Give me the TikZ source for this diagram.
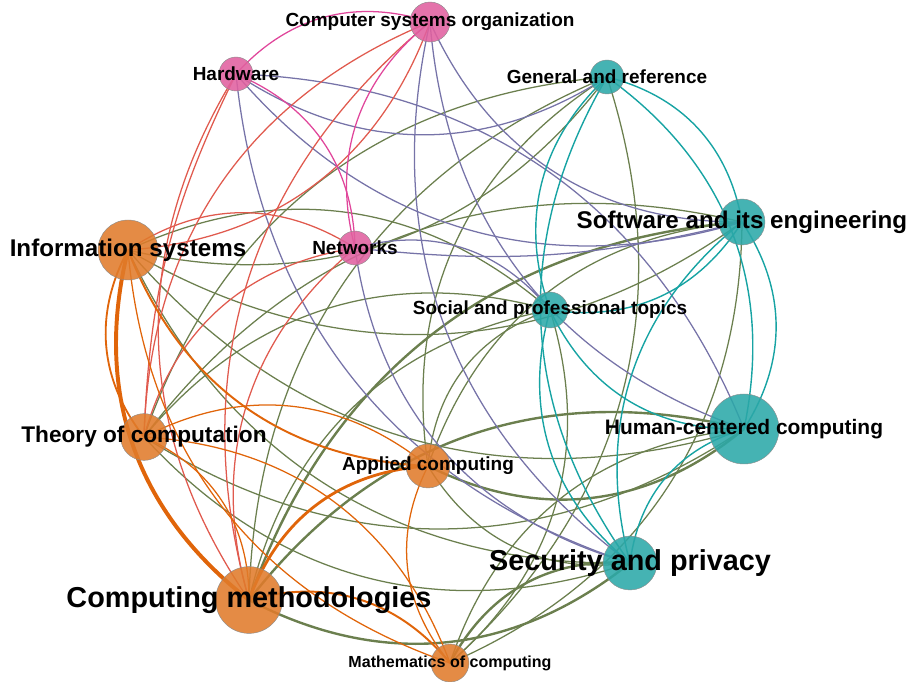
\documentclass[tikz,border=0pt]{standalone}
\usepackage{fontspec}
\setmainfont{Liberation Sans}
\usetikzlibrary{backgrounds}
\definecolor{pinkfill}{HTML}{E0609F}
\definecolor{tealfill}{HTML}{2BA8A8}
\definecolor{orangefill}{HTML}{E07B2B}
\definecolor{pinkline}{HTML}{E0469B}
\definecolor{redline}{HTML}{E05A4E}
\definecolor{purpleline}{HTML}{7673A8}
\definecolor{tealline}{HTML}{17A3A3}
\definecolor{oliveline}{HTML}{6B7F4E}
\definecolor{orangeline}{HTML}{E0650A}
\newcommand{\fsz}[1]{\fontsize{#1}{#1}\selectfont}

\begin{document}
\begin{tikzpicture}[bend angle=33,
    dot/.style={circle, inner sep=0pt, draw=black!45, line width=.3pt, fill opacity=.88},
    pinkdot/.style={dot, fill=pinkfill},
    tealdot/.style={dot, fill=tealfill},
    orangedot/.style={dot, fill=orangefill},
    lab/.style={font=\bfseries, inner sep=0pt},
    lnPink/.style={pinkline, line width=.9pt},
    lnRed/.style={redline, line width=.9pt},
    lnPurple/.style={purpleline, line width=.9pt},
    lnTeal/.style={tealline, line width=1pt},
    lnOlive/.style={oliveline, line width=.9pt},
    lnOrange/.style={orangeline, line width=.9pt},
    heavy/.style={line width=1.7pt}]
\useasboundingbox (0,0) rectangle (22.8,17.025);

% pink group
\node[pinkdot, minimum size=1cm, label={[lab]center:{\fsz{13.5}Computer systems organization}}] (cso) at (10.75,16.475) {};
\node[pinkdot, minimum size=.85cm, label={[lab]center:{\fsz{13.5}Hardware}}] (hw) at (5.9,15.175) {};
\node[pinkdot, minimum size=.85cm, label={[lab]center:{\fsz{13.5}Networks}}] (net) at (8.875,10.825) {};

% teal group
\node[tealdot, minimum size=.85cm, label={[lab]center:{\fsz{13.5}General and reference}}] (gr) at (15.175,15.1) {};
\node[tealdot, minimum size=1.15cm, label={[lab]center:{\fsz{17.2}Software and its engineering}}] (se) at (18.55,11.475) {};
\node[tealdot, minimum size=.9cm, label={[lab]center:{\fsz{13.5}Social and professional topics}}] (spt) at (13.75,9.275) {};
\node[tealdot, minimum size=1.75cm, label={[lab]center:{\fsz{14.9}Human-centered computing}}] (hcc) at (18.6,6.3) {};
\node[tealdot, minimum size=1.35cm, label={[lab]center:{\fsz{20.5}Security and privacy}}] (sp) at (15.75,2.95) {};

% orange group
\node[orangedot, minimum size=1.5cm, label={[lab]center:{\fsz{17.2}Information systems}}] (is) at (3.2,10.775) {};
\node[orangedot, minimum size=1.17cm, label={[lab]center:{\fsz{16.1}Theory of computation}}] (toc) at (3.6,6.1) {};
\node[orangedot, minimum size=1.1cm, label={[lab]center:{\fsz{13.5}Applied computing}}] (ac) at (10.7,5.375) {};
\node[orangedot, minimum size=1.67cm, label={[lab]center:{\fsz{20.5}Computing methodologies}}] (cm) at (6.225,2.025) {};
\node[orangedot, minimum size=.95cm, label={[lab]center:{\fsz{11.4}Mathematics of computing}}] (moc) at (11.25,0.45) {};

\begin{scope}[on background layer]
% orange to teal
\draw[lnOlive] (is.center) to[bend right] (gr.center);
\draw[lnOlive] (is.center) to[bend right] (se.center);
\draw[lnOlive] (is.center) to[bend left] (spt.center);
\draw[lnOlive] (is.center) to[bend right] (hcc.center);
\draw[lnOlive] (is.center) to[bend right] (sp.center);
\draw[lnOlive] (toc.center) to[bend left] (gr.center);
\draw[lnOlive] (toc.center) to[bend left] (se.center);
\draw[lnOlive] (toc.center) to[bend left] (spt.center);
\draw[lnOlive] (toc.center) to[bend right] (hcc.center);
\draw[lnOlive] (toc.center) to[bend right] (sp.center);
\draw[lnOlive] (cm.center) to[bend left] (gr.center);
\draw[lnOlive, heavy] (cm.center) to[bend left] (se.center);
\draw[lnOlive] (cm.center) to[bend left] (spt.center);
\draw[lnOlive, heavy] (cm.center) to[bend left] (hcc.center);
\draw[lnOlive, heavy] (cm.center) to[bend right] (sp.center);
\draw[lnOlive] (ac.center) to[bend left] (gr.center);
\draw[lnOlive] (ac.center) to[bend left] (se.center);
\draw[lnOlive] (ac.center) to[bend left] (spt.center);
\draw[lnOlive, heavy] (ac.center) to[bend right] (hcc.center);
\draw[lnOlive] (ac.center) to[bend right] (sp.center);
\draw[lnOlive] (gr.center) to[bend left] (moc.center);
\draw[lnOlive] (moc.center) to[bend right] (se.center);
\draw[lnOlive] (moc.center) to[bend right] (spt.center);
\draw[lnOlive] (moc.center) to[bend left] (hcc.center);
\draw[lnOlive, heavy] (moc.center) to[bend left] (sp.center);

% pink to teal
\draw[lnPurple] (hw.center) to[bend right] (gr.center);
\draw[lnPurple] (hw.center) to[bend right] (se.center);
\draw[lnPurple] (hw.center) to[bend right] (sp.center);
\draw[lnPurple] (hw.center) to[bend left] (hcc.center);
\draw[lnPurple] (cso.center) to[bend right] (se.center);
\draw[lnPurple] (cso.center) to[bend right] (sp.center);
\draw[lnPurple] (cso.center) to[bend right] (hcc.center);
\draw[lnPurple] (net.center) to[bend left] (spt.center);
\draw[lnPurple] (net.center) to[bend right] (sp.center);
\draw[lnPurple] (net.center) to[bend right=10] (se.center);

% pink to orange
\draw[lnRed] (hw.center) to[bend right=12] (toc.center);
\draw[lnRed] (hw.center) to[bend right] (cm.center);
\draw[lnRed] (cso.center) to[bend left] (is.center);
\draw[lnRed] (cso.center) to[bend right] (toc.center);
\draw[lnRed] (cso.center) to[bend right] (cm.center);
\draw[lnRed] (net.center) to[bend right] (is.center);
\draw[lnRed] (net.center) to[bend right] (toc.center);
\draw[lnRed] (net.center) to[bend right] (cm.center);

% teal to teal
\draw[lnTeal] (gr.center) to[bend left] (se.center);
\draw[lnTeal] (gr.center) to[bend left] (hcc.center);
\draw[lnTeal] (gr.center) to[bend right] (spt.center);
\draw[lnTeal] (gr.center) to[bend right] (sp.center);
\draw[lnTeal] (spt.center) to[bend right] (se.center);
\draw[lnTeal] (se.center) to[bend left] (hcc.center);
\draw[lnTeal] (se.center) to[bend right] (sp.center);
\draw[lnTeal] (spt.center) to[bend right] (hcc.center);
\draw[lnTeal] (spt.center) to[bend right] (sp.center);
\draw[lnTeal] (hcc.center) to[bend right] (sp.center);

% orange to orange
\draw[lnOrange, line width=1.3pt] (is.center) to[bend right] (toc.center);
\draw[lnOrange, line width=2.8pt] (is.center) to[bend right] (cm.center);
\draw[lnOrange, line width=1.4pt] (is.center) to[bend right] (ac.center);
\draw[lnOrange] (is.center) to[bend right] (moc.center);
\draw[lnOrange] (toc.center) to[bend left] (cm.center);
\draw[lnOrange] (toc.center) to[bend left] (ac.center);
\draw[lnOrange] (toc.center) to[bend left] (moc.center);
\draw[lnOrange, line width=2pt] (cm.center) to[bend left] (ac.center);
\draw[lnOrange] (ac.center) to[bend right] (moc.center);
\draw[lnOrange, line width=1.4pt] (cm.center) to[bend left] (moc.center);

% pink to pink
\draw[lnPink] (hw.center) to[bend left] (cso.center);
\draw[lnPink] (hw.center) to[bend left] (net.center);
\draw[lnPink] (net.center) to[bend left] (cso.center);
\end{scope}
\end{tikzpicture}
\end{document}
